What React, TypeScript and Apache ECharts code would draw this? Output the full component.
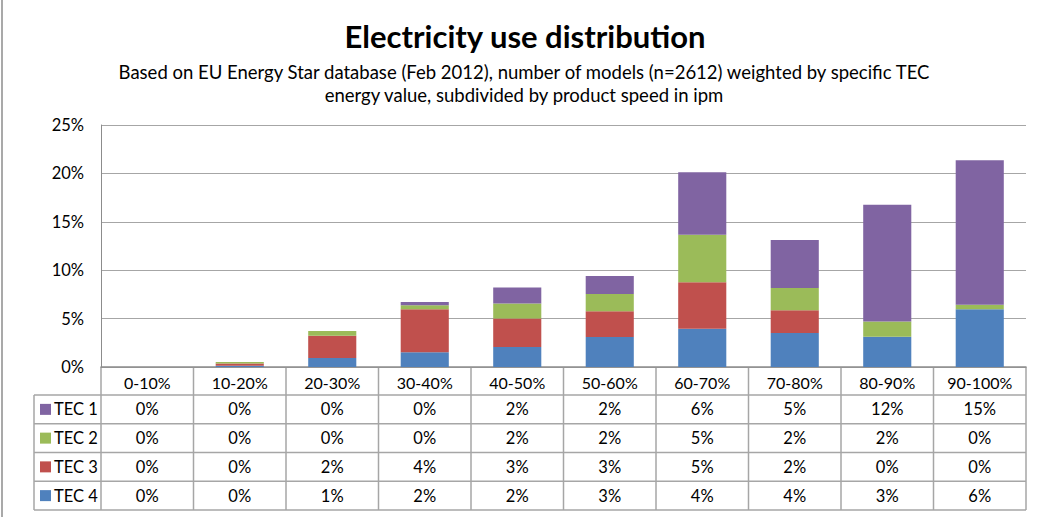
import React, { useEffect, useRef } from "react";
import * as echarts from "echarts";

const categories = ["0-10%", "10-20%", "20-30%", "30-40%", "40-50%", "50-60%", "60-70%", "70-80%", "80-90%", "90-100%"];
const tec1 = [0, 0, 0, 0.34, 1.65, 1.86, 6.44, 4.96, 12.05, 14.91];
const tec2 = [0, 0.15, 0.48, 0.41, 1.55, 1.79, 4.92, 2.31, 1.58, 0.48];
const tec3 = [0, 0.25, 2.31, 4.44, 2.93, 2.65, 4.79, 2.34, 0, 0];
const tec4 = [0, 0.12, 0.93, 1.52, 2.07, 3.1, 3.96, 3.51, 3.13, 5.96];
const seriesNames = ["TEC 1", "TEC 2", "TEC 3", "TEC 4"];
const colors = ["#8064A2", "#9BBB59", "#C0504D", "#4F81BD"];
const titleText = "Electricity use distribution";
const subtitleLines = [
  "Based on EU Energy Star database (Feb 2012), number of models (n=2612) weighted by specific TEC",
  "energy value, subdivided by product speed in ipm",
];

const FONT = "Lato, 'Noto Sans', sans-serif";
const LINE = "#a6a6a6";

export default function App() {
  const ref = useRef<HTMLDivElement>(null);
  useEffect(() => {
    const chart = echarts.init(ref.current!, null, { renderer: "svg" });
    const data = [tec1, tec2, tec3, tec4];
    const stackOrder = [3, 2, 1, 0];
    chart.setOption({
      animation: false,
      textStyle: { fontFamily: FONT },
      grid: { left: 101, right: 19, top: 125, bottom: 150, containLabel: false },
      xAxis: {
        type: "category",
        data: categories,
        axisLine: { show: true, lineStyle: { color: "#8c8c8c", width: 1.5 } },
        axisTick: { show: false },
        axisLabel: { fontSize: 16, color: "#000", margin: 7, fontFamily: FONT, interval: 0 },
      },
      yAxis: {
        type: "value",
        min: 0,
        max: 25,
        interval: 5,
        axisLine: { show: true, lineStyle: { color: "#8c8c8c", width: 1 } },
        axisTick: { show: false },
        splitLine: { lineStyle: { color: LINE, width: 1.2 } },
        axisLabel: { formatter: "{value}%", fontSize: 16.5, color: "#000", margin: 17, fontFamily: FONT },
      },
      series: stackOrder.map((i) => ({
        name: seriesNames[i],
        type: "bar",
        stack: "total",
        data: data[i],
        barCategoryGap: "48%",
        itemStyle: { color: colors[i] },
      })),
    });

    const c0 = chart.convertToPixel({ xAxisIndex: 0 }, 0) as number;
    const c1 = chart.convertToPixel({ xAxisIndex: 0 }, 1) as number;
    const step = c1 - c0;
    const xLeft = c0 - step / 2;
    const xRight = xLeft + step * categories.length;
    const yZero = chart.convertToPixel({ yAxisIndex: 0 }, 0) as number;
    const headerH = 28;
    const rowH = 28.75;
    const legendLeft = 34;
    const rowTops = [0, 1, 2, 3, 4].map((r) => yZero + headerH + r * rowH);
    const tableBottom = rowTops[4];

    const g: any[] = [];
    g.push({ type: "line", shape: { x1: 2, y1: 0, x2: 2, y2: 517 }, style: { stroke: "#8c8c8c", lineWidth: 1.5 } });
    g.push({
      type: "text",
      style: { text: titleText, x: 525, y: 36, align: "center", verticalAlign: "middle", font: `bold 31px ${FONT}`, fill: "#000" },
    });
    subtitleLines.forEach((t, i) => {
      g.push({
        type: "text",
        style: { text: t, x: 524, y: 72 + i * 23, align: "center", verticalAlign: "middle", font: `18.5px ${FONT}`, fill: "#000" },
      });
    });
    for (let k = 0; k <= categories.length; k++) {
      const x = xLeft + k * step;
      g.push({ type: "line", shape: { x1: x, y1: yZero, x2: x, y2: tableBottom }, style: { stroke: LINE, lineWidth: 1.5 } });
    }
    g.push({ type: "line", shape: { x1: legendLeft, y1: rowTops[0], x2: legendLeft, y2: tableBottom }, style: { stroke: LINE, lineWidth: 1.5 } });
    rowTops.forEach((y) => {
      g.push({ type: "line", shape: { x1: legendLeft, y1: y, x2: xRight, y2: y }, style: { stroke: LINE, lineWidth: 1.5 } });
    });
    seriesNames.forEach((name, r) => {
      const yc = rowTops[r] + rowH / 2;
      g.push({ type: "rect", shape: { x: 40, y: yc - 5.5, width: 11, height: 11 }, style: { fill: colors[r] } });
      g.push({
        type: "text",
        style: { text: name, x: 54, y: yc, align: "left", verticalAlign: "middle", font: `16.5px ${FONT}`, fill: "#000" },
      });
      data[r].forEach((v, k) => {
        g.push({
          type: "text",
          style: {
            text: Math.round(v) + "%",
            x: xLeft + (k + 0.5) * step,
            y: yc,
            align: "center",
            verticalAlign: "middle",
            font: `16.5px ${FONT}`,
            fill: "#000",
          },
        });
      });
    });
    chart.setOption({ graphic: g });
    return () => chart.dispose();
  }, []);
  return (
    <div
      ref={ref}
      style={{ position: "fixed", left: 0, top: 0, width: 1045, height: 517, background: "#fff" }}
    />
  );
}
